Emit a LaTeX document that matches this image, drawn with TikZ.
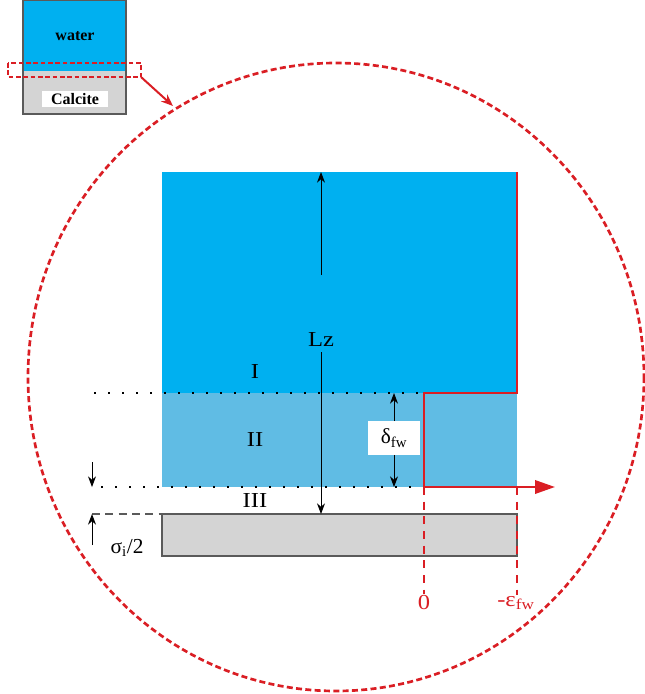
\documentclass[tikz,border=0pt]{standalone}
\usepackage{fontspec}
\setmainfont{Liberation Serif}
\usetikzlibrary{arrows.meta}

\definecolor{waterblue}{RGB}{0,176,240}
\definecolor{layerblue}{RGB}{96,188,228}
\definecolor{calcgray}{RGB}{212,212,212}
\definecolor{edgegray}{RGB}{90,90,90}
\definecolor{zoomred}{RGB}{218,30,36}

\begin{document}
\begin{tikzpicture}[x=0.75pt, y=-0.75pt,
  lbl/.style={font=\fontsize{16}{18}\selectfont, inner sep=1pt},
  wide/.style={xscale=1.15, transform shape},
  redlbl/.style={lbl, wide, text=zoomred},
  tag/.style={font=\fontsize{12}{14}\selectfont\bfseries, inner sep=1pt},
  arr/.style={-{Stealth[length=8pt, width=6pt]}, line width=0.7pt},
  dots/.style={line width=1.8pt, dash pattern=on 1.6pt off 8.9pt},
  redline/.style={draw=zoomred, line width=1.9pt},
  guide/.style={draw=zoomred, line width=0.9pt, dash pattern=on 6pt off 5pt},
  zoomline/.style={draw=zoomred, line width=2pt, dash pattern=on 4.5pt off 2.5pt},
]

\useasboundingbox (0,0) rectangle (645,694);

% Inset
\fill[waterblue] (23,0) rectangle (126,71);
\fill[calcgray] (23,71) rectangle (126,114);
\draw[edgegray, line width=0.8pt] (23,0) rectangle (126,114);
\node[tag] (water) at (75,36) {water};
\node[tag, fill=white, minimum width=50pt, inner ysep=1.5pt] (calcite) at (75,99) {Calcite};
\draw[zoomline, line width=1.4pt, dash pattern=on 3.5pt off 2pt] (8,63) rectangle (141,77);
\coordinate (zoomfrom) at (141,77);
\coordinate (zoomto) at (173,106);
\draw[draw=zoomred, line width=1.5pt, -{Stealth[length=9pt, width=7pt]}] (zoomfrom) -- (zoomto);

% Zoom circle
\draw[zoomline] (336,377) ellipse [x radius=308, y radius=314];

% Water layers
\fill[waterblue] (162,172) rectangle (517,393);
\fill[layerblue] (162,393) rectangle (517,487);

% Calcite
\filldraw[fill=calcgray, draw=edgegray, line width=0.8pt] (162,514) rectangle (517,556);
\draw[edgegray, line width=0.8pt, dash pattern=on 6pt off 4pt] (92,514) -- (162,514);

% Layer borders
\draw[dots] (94,393) -- (517,393);
\draw[dots] (101,487) -- (424,487);

% Strain profile
\draw[redline, -{Triangle[length=15pt, width=10pt]}] (517,172) |- (424,393) |- (555,487);
\coordinate (z0) at (424,487);
\coordinate (e0) at (517,487);

% Labels
\node[lbl, wide] (lz) at (321,340) {Lz};
\node[lbl, wide] (r1) at (255,372) {I};
\node[lbl, wide] (r2) at (255,440) {II};
\node[lbl, wide] (r3) at (255,501) {III};
\node[lbl, fill=white, minimum width=39pt, minimum height=25pt] (delta) at (394,438) {δ\textsubscript{fw}};
\node[lbl] (sigma) at (127,548) {σ\textsubscript{i}/2};
\node[redlbl] (zero) at (424,603) {0};
\node[redlbl] (eps) at (516,603) {-ε\textsubscript{fw}};

% Thickness arrows
\coordinate (lztop) at (321,172);
\coordinate (lzgap) at (321,275);
\coordinate (lzlow) at (321,352);
\coordinate (lzbot) at (321,514);
\draw[arr] (lzgap) -- (lztop);
\draw[arr] (lzlow) -- (lzbot);

\coordinate (dtop) at (394,393);
\coordinate (dbot) at (394,487);
\draw[arr] (delta.north) -- (dtop);
\draw[arr] (delta.south) -- (dbot);

\coordinate (s1) at (92,462);
\coordinate (s2) at (92,487);
\coordinate (s3) at (92,545);
\coordinate (s4) at (92,514);
\draw[arr] (s1) -- (s2);
\draw[arr] (s3) -- (s4);

% Guides
\draw[guide] (z0) -- (zero);
\draw[guide] (e0) -- (eps.north -| e0);

\end{tikzpicture}
\end{document}
